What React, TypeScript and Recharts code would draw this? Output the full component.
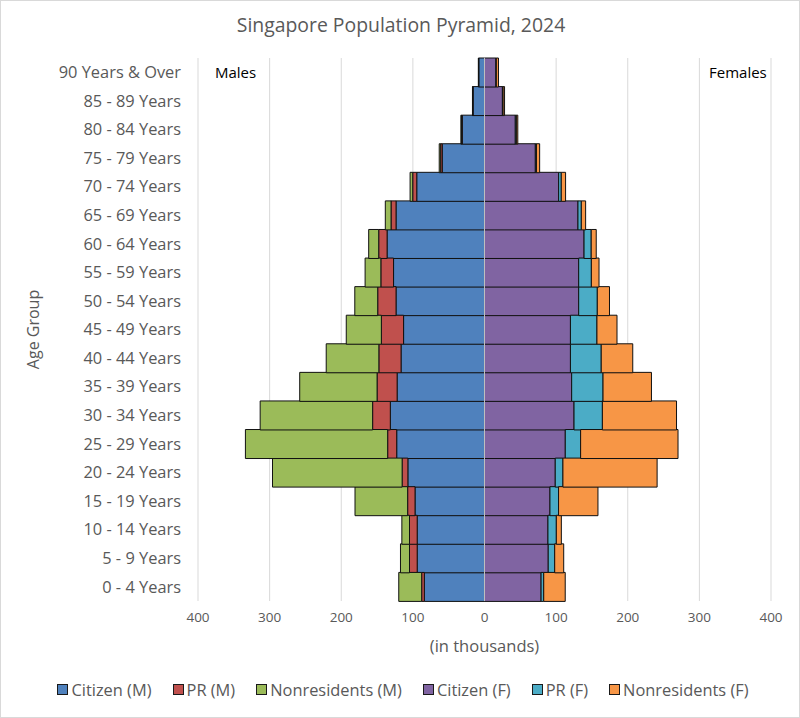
import React from 'react';
import { BarChart, Bar, XAxis, YAxis, CartesianGrid, ReferenceLine, Legend } from 'recharts';

const ages = [
  '0 - 4 Years', '5 - 9 Years', '10 - 14 Years', '15 - 19 Years', '20 - 24 Years',
  '25 - 29 Years', '30 - 34 Years', '35 - 39 Years', '40 - 44 Years', '45 - 49 Years',
  '50 - 54 Years', '55 - 59 Years', '60 - 64 Years', '65 - 69 Years', '70 - 74 Years',
  '75 - 79 Years', '80 - 84 Years', '85 - 89 Years', '90 Years & Over',
];
const citizenM = [84, 94, 94, 97, 107, 122.6, 131.5, 122, 116.5, 113, 123.5, 127, 136, 123.5, 94.6, 59, 31, 16, 8];
const prM = [3.7, 10.7, 10.7, 10.3, 8, 12.6, 24.7, 28, 31, 31, 25.6, 17.7, 11.7, 7, 5.6, 2.2, 1, 0.5, 0.3];
const nrM = [32, 12.6, 10.7, 73.5, 181, 198.6, 157, 108, 73.5, 49, 32, 22, 14, 8, 3.7, 2, 1, 0.3, 0.3];
const citizenF = [79, 89, 88.6, 91.4, 98.8, 112.8, 125, 121.7, 120, 120, 131.5, 131.5, 139, 130.5, 103.5, 71, 43, 25, 16];
const prF = [3.7, 9, 11.7, 12, 10.7, 21.4, 39.6, 43.8, 43, 37, 26, 17.7, 10, 4.7, 3.7, 1.5, 1.5, 1, 0.5];
const nrF = [30, 12.6, 7, 55, 131.5, 136, 103.5, 67.6, 44, 28, 17, 10.7, 7, 6, 6, 4.5, 2, 2, 3];
const xTicks = [-400, -300, -200, -100, 0, 100, 200, 300, 400];

const seriesDefs = [
  { key: 'citizenM', name: 'Citizen (M)', color: '#4f81bd' },
  { key: 'prM', name: 'PR (M)', color: '#c0504d' },
  { key: 'nrM', name: 'Nonresidents (M)', color: '#9bbb59' },
  { key: 'citizenF', name: 'Citizen (F)', color: '#8064a2' },
  { key: 'prF', name: 'PR (F)', color: '#4bacc6' },
  { key: 'nrF', name: 'Nonresidents (F)', color: '#f79646' },
];

const data = ages.map((age, i) => ({
  age,
  citizenM: -citizenM[i],
  prM: -prM[i],
  nrM: -nrM[i],
  citizenF: citizenF[i],
  prF: prF[i],
  nrF: nrF[i],
}));

const FONT = '"Open Sans", Lato, sans-serif';
const GRAY = '#595959';

const LegendContent = () => (
  <div style={{ height: 57, display: 'flex', alignItems: 'center', justifyContent: 'center', fontFamily: FONT, fontSize: 16.4, color: GRAY, paddingLeft: 35 }}>
    {seriesDefs.map((s, i) => (
      <div key={s.key} style={{ display: 'flex', alignItems: 'center', marginLeft: i === 0 ? 0 : 21 }}>
        <span style={{ width: 9, height: 9, background: s.color, border: '1.5px solid #1a1a1a', marginRight: 3, display: 'inline-block' }} />
        <span>{s.name}</span>
      </div>
    ))}
  </div>
);

const YLabel = (props: any) => {
  const vb = props.viewBox || { x: 0, y: 0, width: 0, height: 0 };
  const cx = vb.x + 33;
  const cy = vb.y + vb.height / 2;
  return (
    <text x={cx} y={cy} transform={`rotate(-90 ${cx} ${cy})`} textAnchor="middle" dominantBaseline="central" fill={GRAY} fontSize={16} fontFamily={FONT}>
      Age Group
    </text>
  );
};

const XLabel = (props: any) => {
  const vb = props.viewBox || { x: 0, y: 0, width: 0, height: 0 };
  return (
    <text x={vb.x + vb.width / 2} y={vb.y + 44} textAnchor="middle" dominantBaseline="central" fill={GRAY} fontSize={16.5} fontFamily={FONT}>
      (in thousands)
    </text>
  );
};

export default function App() {
  return (
    <div style={{ position: 'absolute', left: 0, top: 0, width: 800, height: 718, boxSizing: 'border-box', border: '1px solid #d9d9d9', background: '#fff', fontFamily: FONT }}>
      <div style={{ position: 'absolute', left: 0, top: 10, width: 800, textAlign: 'center', fontSize: 19.4, color: GRAY }}>
        Singapore Population Pyramid, 2024
      </div>
      <div style={{ position: 'absolute', left: 214, top: 61, fontSize: 15, color: '#000' }}>Males</div>
      <div style={{ position: 'absolute', left: 708, top: 61, fontSize: 15, color: '#000' }}>Females</div>
      <div style={{ position: 'absolute', left: -1, top: -1 }}>
        <BarChart
          width={800}
          height={718}
          data={data}
          layout="vertical"
          stackOffset="sign"
          barCategoryGap={0}
          margin={{ top: 58, right: 29, bottom: 0, left: 0 }}
        >
          <CartesianGrid horizontal={false} stroke="#d9d9d9" />
          <XAxis
            type="number"
            domain={[-400, 400]}
            ticks={xTicks}
            tickFormatter={(v: number) => String(Math.abs(v))}
            axisLine={false}
            tickLine={false}
            tickSize={0}
            tickMargin={11}
            height={60}
            tick={{ fill: GRAY, fontSize: 13.5, fontFamily: FONT }}
            label={<XLabel />}
          />
          <YAxis
            type="category"
            dataKey="age"
            reversed
            width={198}
            axisLine={false}
            tickLine={false}
            tickSize={0}
            tickMargin={17}
            interval={0}
            tick={{ fill: GRAY, fontSize: 16.4, fontFamily: FONT }}
            label={<YLabel />}
          />
          {seriesDefs.map((s) => (
            <Bar key={s.key} dataKey={s.key} name={s.name} stackId="a" fill={s.color} stroke="#111" strokeWidth={1} isAnimationActive={false} />
          ))}
          <ReferenceLine x={0} stroke="#bfbfbf" strokeWidth={1} />
          <Legend verticalAlign="bottom" content={<LegendContent />} />
        </BarChart>
      </div>
    </div>
  );
}
